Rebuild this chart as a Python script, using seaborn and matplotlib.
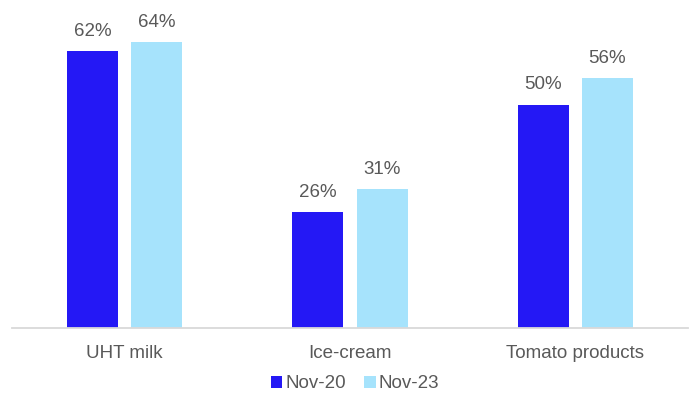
import matplotlib
matplotlib.use("Agg")
import matplotlib.pyplot as plt
import seaborn as sns
import pandas as pd

categories = ["UHT milk", "Ice-cream", "Tomato products"]
periods = ["Nov-20", "Nov-23"]
nov20 = [62, 26, 50]
nov23 = [64, 31, 56]

df = pd.DataFrame({
    "category": categories * 2,
    "period": [periods[0]] * 3 + [periods[1]] * 3,
    "share": nov20 + nov23,
})

sns.set_style("white")
plt.rcParams["font.family"] = ["Liberation Sans", "DejaVu Sans"]
text_color = "#595959"

fig = plt.figure(figsize=(6.94, 3.96), dpi=100)
ax = fig.add_axes([12 / 694, 68 / 396, 676 / 694, 328 / 396])

sns.barplot(
    data=df, x="category", y="share", hue="period",
    order=categories, hue_order=periods,
    palette=["#2418F5", "#A6E3FC"],
    width=0.571, gap=0.208, saturation=1, linewidth=0,
    legend=True, ax=ax,
)

for container in ax.containers:
    ax.bar_label(container, labels=[f"{v:.0f}%" for v in container.datavalues],
                 padding=8, fontsize=13.5, color=text_color)

ax.set_xlim(-0.5, 2.5)
ax.set_ylim(0, 73.4)
ax.set_xlabel("")
ax.set_ylabel("")
ax.set_yticks([])
ax.tick_params(axis="x", length=0, pad=12, labelsize=13.5, labelcolor=text_color)
for side in ["top", "left", "right"]:
    ax.spines[side].set_visible(False)
ax.spines["bottom"].set_color("#D9D9D9")
ax.spines["bottom"].set_linewidth(1.3)

handles, labels = ax.get_legend_handles_labels()
ax.get_legend().remove()
fig.legend(handles, labels, loc="center", bbox_to_anchor=(355 / 694, 1 - 384 / 396),
           ncol=2, frameon=False, fontsize=13.5, labelcolor=text_color,
           handlelength=0.6, handleheight=0.6, handletextpad=0.15, columnspacing=1.0,
           borderaxespad=0, borderpad=0)

fig.savefig("out.png", dpi=100)
